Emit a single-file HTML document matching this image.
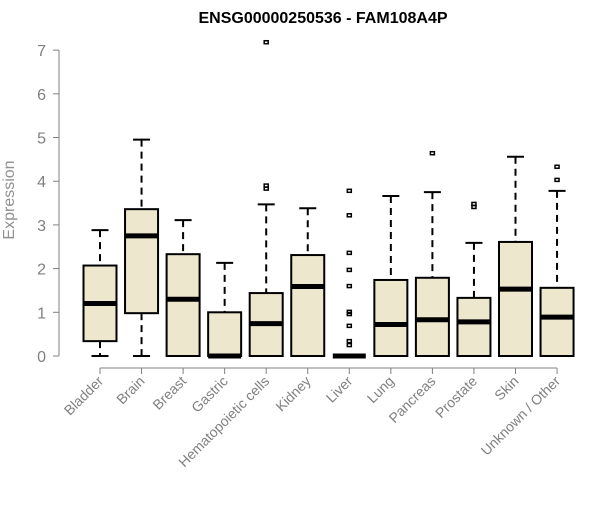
<!DOCTYPE html>
<html><head><meta charset="utf-8"><style>
body{margin:0;background:#fff;}
svg text{font-family:"Liberation Sans",Arial,sans-serif;}
</style></head><body>
<svg id="chart" width="600" height="500"></svg>
<script>
const categories=["Bladder","Brain","Breast","Gastric","Hematopoietic cells","Kidney","Liver","Lung","Pancreas","Prostate","Skin","Unknown / Other"];
const lowers=[0,0,0,0,0,0,0,0,0,0,0,0];
const q1s=[0.34,0.98,0,0,0,0,0,0,0,0,0,0];
const medians=[1.2,2.75,1.3,0,0.74,1.59,0,0.72,0.83,0.78,1.53,0.89];
const q3s=[2.07,3.36,2.33,1.0,1.44,2.31,0,1.74,1.79,1.33,2.61,1.56];
const uppers=[2.88,4.95,3.11,2.13,3.47,3.38,0,3.66,3.75,2.59,4.56,3.78];
const outliers=[[],[],[],[],[7.18,3.9,3.83],[],[3.78,3.22,2.36,1.97,1.6,1.01,0.96,0.69,0.34,0.25],[],[4.64],[3.48,3.41],[],[4.33,4.03]];
const yTicks=[0,1,2,3,4,5,6,7];
const NS="http://www.w3.org/2000/svg";
const svg=document.getElementById('chart');
const y=v=>356-v*43.7;
const x=i=>100+i*41.55;
function mk(t,a,p){const e=document.createElementNS(NS,t);for(const k in a)e.setAttribute(k,a[k]);(p||svg).appendChild(e);return e;}
const title=mk('text',{x:323,y:23,'text-anchor':'middle','font-size':16,'font-weight':'bold',fill:'#000'});
title.textContent="ENSG00000250536 - FAM108A4P";


const yl=mk('text',{x:0,y:0,transform:'translate(14,200) rotate(-90)','text-anchor':'middle','font-size':16,fill:'#909090'});
yl.textContent="Expression";


const ya=mk('line',{x1:59,x2:59,y1:y(7),y2:y(0),stroke:'#808080','stroke-width':1});


yTicks.forEach(t=>{
  mk('line',{x1:53,x2:59,y1:y(t),y2:y(t),stroke:'#808080'});
  const tx=mk('text',{x:46,y:y(t)+6,'text-anchor':'end','font-size':16,fill:'#808080'});
  tx.textContent=t;
  
  
});
const xa=mk('line',{x1:x(0),x2:x(categories.length-1),y1:368,y2:368,stroke:'#808080'});


categories.forEach((c,i)=>{
  const cx=x(i);
  mk('line',{x1:cx,x2:cx,y1:368,y2:374,stroke:'#808080'});
  const tx=mk('text',{x:0,y:0,transform:`translate(${cx+4},${382}) rotate(-45)`,'text-anchor':'end','font-size':14,fill:'#808080'});
  tx.textContent=c;
  
  
  const g=mk('g',{});
  
  
  const hw=16.5;
  mk('line',{x1:cx,x2:cx,y1:y(uppers[i]),y2:y(q3s[i]),stroke:'#000','stroke-width':2,'stroke-dasharray':'7,5'},g);
  mk('line',{x1:cx,x2:cx,y1:y(q1s[i]),y2:y(lowers[i]),stroke:'#000','stroke-width':2,'stroke-dasharray':'7,5'},g);
  if(uppers[i]>q3s[i]) mk('line',{x1:cx-8.5,x2:cx+8.5,y1:y(uppers[i]),y2:y(uppers[i]),stroke:'#000','stroke-width':2},g);
  if(q1s[i]>lowers[i]) mk('line',{x1:cx-8.5,x2:cx+8.5,y1:y(lowers[i]),y2:y(lowers[i]),stroke:'#000','stroke-width':2},g);
  mk('rect',{x:cx-hw,y:y(q3s[i]),width:hw*2,height:Math.max(0,y(q1s[i])-y(q3s[i])),fill:'#ede7cd',stroke:'#000','stroke-width':2},g);
  mk('line',{x1:cx-hw,x2:cx+hw,y1:y(medians[i]),y2:y(medians[i]),stroke:'#000','stroke-width':5},g);
  outliers[i].forEach(o=>{
    const p=mk('rect',{x:cx-2,y:y(o)-1.5,width:4,height:3,fill:'none',stroke:'#000','stroke-width':1.5},g);
    
    
  });
});
</script>
</body></html>
